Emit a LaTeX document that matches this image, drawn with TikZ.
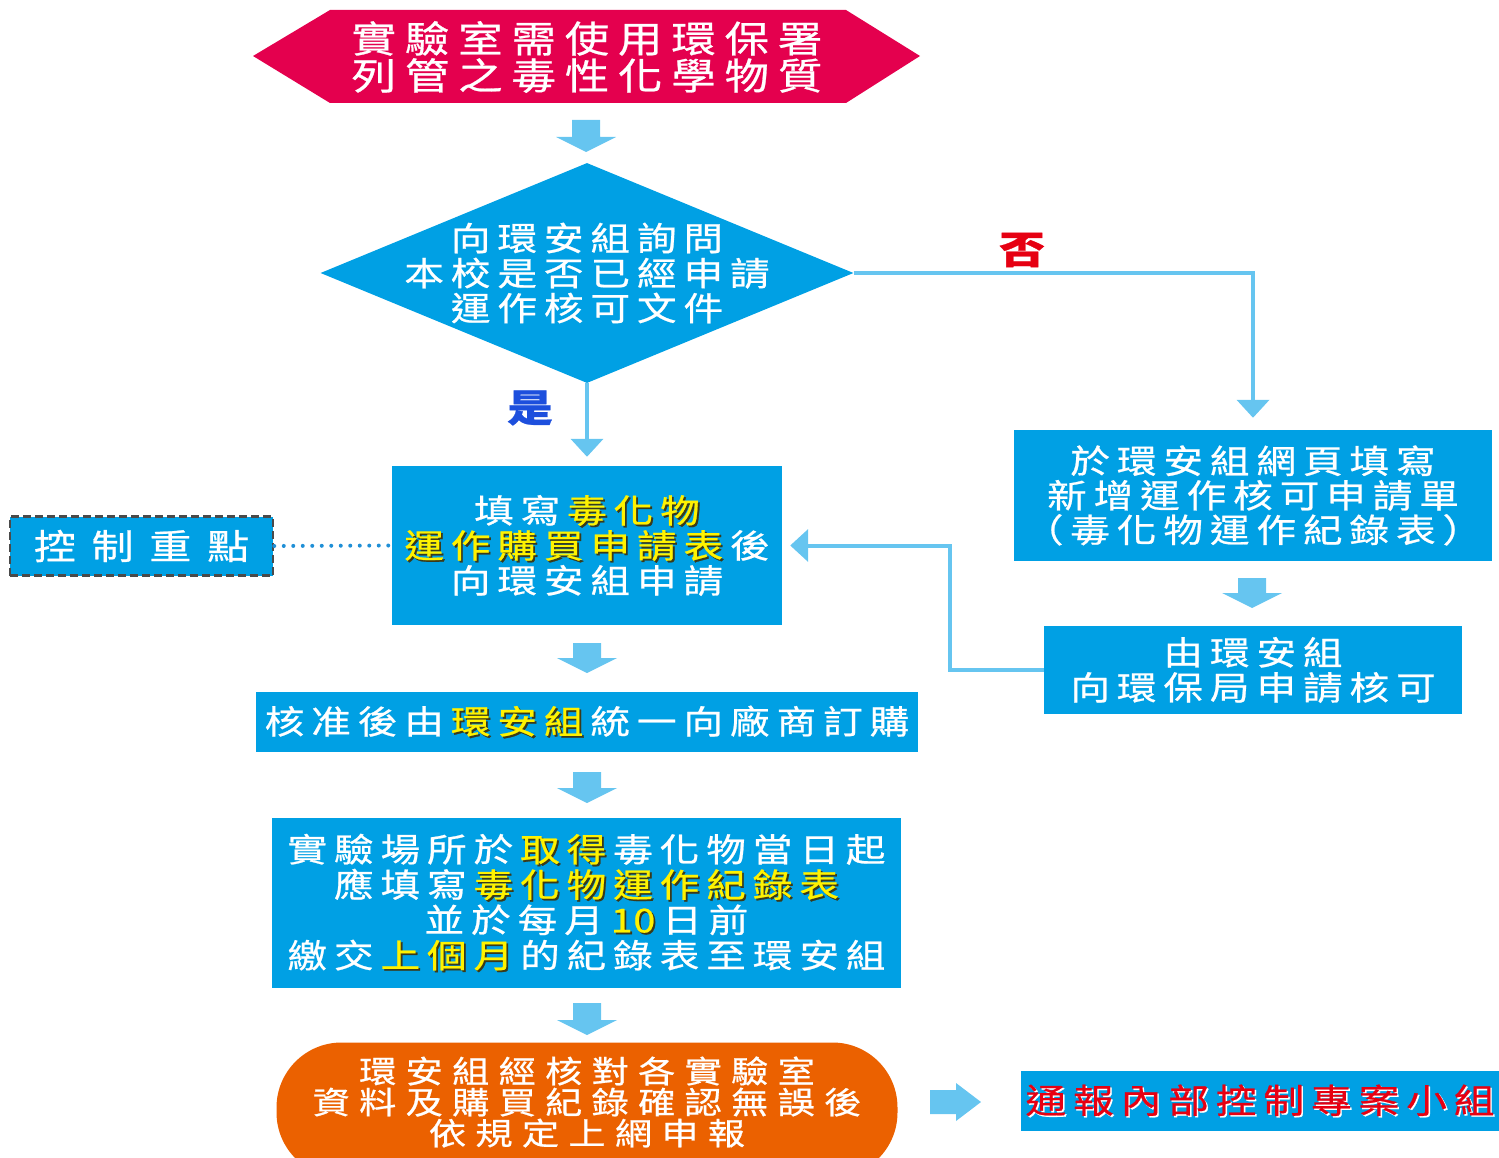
\documentclass[tikz,border=0pt]{standalone}
\usepackage{fontspec}
\setmainfont{Noto Sans CJK TC}[FakeBold=0.7, FakeStretch=1.2]
\usetikzlibrary{arrows.meta,calc,shapes.geometric}
\definecolor{boxblue}{HTML}{00A0E4}
\definecolor{arrblue}{HTML}{66C5F0}
\definecolor{hexred}{HTML}{E4004E}
\definecolor{orng}{HTML}{EB6100}
\definecolor{hlyellow}{HTML}{FFF200}
\definecolor{shd}{HTML}{3A3A1A}
\definecolor{yesblue}{HTML}{1D4FDD}
\definecolor{nored}{HTML}{E60012}
\definecolor{dotblue}{HTML}{1F8FD6}
\definecolor{dashgray}{HTML}{4A4A4A}
\newlength\lsp
\newcommand\cj[3]{\fontsize{#1}{#2}\selectfont\addfontfeatures{LetterSpace=#3}\setlength\lsp{\dimexpr #1pt*#3/100\relax}}
\newcommand\s{\kern\lsp}
\newcommand\hl[1]{\makebox[0pt][l]{\kern1.8pt\raisebox{-1.8pt}{\textcolor{shd}{#1}}}\textcolor{hlyellow}{#1}}
\newcommand\darrow[3]{\fill[arrblue] (#1-14,#2) -- (#1+14,#2) -- (#1+14,#3-15) -- (#1+30,#3-15) -- (#1,#3) -- (#1-30,#3-15) -- (#1-14,#3-15) -- cycle;}
\begin{document}
\begin{tikzpicture}[x=1pt,y=-1pt,
  box/.style={fill=boxblue, text=white, align=center, inner sep=0pt},
  txt/.style={text=white, align=center, inner sep=0pt},
  conn/.style={draw=arrblue, line width=4pt, -{Triangle[width=32pt,length=18pt]}},
  ctrl/.style={fill=boxblue, text=white, draw=dashgray, line width=2.5pt, dash pattern=on 8pt off 4pt},
  dotline/.style={draw=dotblue, line width=4pt, line cap=round, dash pattern=on 0pt off 9.5pt}]
\useasboundingbox (0,0) rectangle (1499,1158);
\begin{scope}
\clip (0,0) rectangle (1499,1158);
% hexagon
\fill[hexred] (253,56) -- (330,10) -- (846,10) -- (920,56) -- (846,103) -- (330,103) -- cycle;
\node[txt, font=\cj{37}{37}{24}] (hex) at (587,57) {實驗室需使用環保署\\列管之毒性化學物質};
\darrow{586}{120}{152}
% diamond
\node[diamond, fill=boxblue, minimum width=533pt, minimum height=220pt, inner sep=0pt] (dia) at (587,273) {};
\node[txt, font=\cj{33}{35}{21}] (diat) at (587,273) {向環安組詢問\\本校是否已經申請\\運作核可文件};
\node[text=nored, inner sep=0pt, font=\cj{38}{40}{0}\bfseries] (no) at (1022,250) {否};
\node[text=yesblue, inner sep=0pt, font=\cj{38}{40}{0}\bfseries] (yes) at (530,408) {是};
% box 2
\node[box, minimum width=390pt, minimum height=159pt, font=\cj{33}{35}{21}] (b2) at (587,545.5)
  {填寫\s{}\hl{毒化物}\\\hl{運作購買申請表}\s{}後\\向環安組申請};
% control
\node[ctrl, minimum width=263pt, minimum height=59pt, font=\cj{35}{37}{45}] (ctl) at (141.5,546) {控制重點};
\draw[dotline] (ctl.east) -- (b2.west);
% right boxes
\node[box, minimum width=478pt, minimum height=131pt, font=\cj{33}{34.5}{21}] (r1) at (1253,495.5)
  {於環安組網頁填寫\\新增運作核可申請單\\（毒化物運作紀錄表）};
\darrow{1252}{578}{608}
\node[box, minimum width=418pt, minimum height=88pt, font=\cj{33}{35}{21}] (r2) at (1253,670)
  {由環安組\\向環保局申請核可};
% connectors
\draw[conn, shorten >=9pt] (dia.south) -- (b2.north);
\draw[conn, shorten >=12pt] (dia.east) -| (r1.north);
\draw[conn, shorten >=8pt] (r2.west) -- ++(-94,0) |- (b2.east);
% box 3
\darrow{587}{643}{673}
\node[box, minimum width=662pt, minimum height=60pt, font=\cj{33}{35}{21}] (b3) at (587,722)
  {核准後由\s{}\hl{環安組}\s{}統一向廠商訂購};
\darrow{587}{772}{803}
% box 4
\node[box, minimum width=629pt, minimum height=170pt, font=\cj{33}{35.3}{21}] (b4) at (586.5,903)
  {實驗場所於\s{}\hl{取得}\s{}毒化物當日起\\應填寫\s{}\hl{毒化物運作紀錄表}\\並於每月\s{}{\addfontfeatures{LetterSpace=2}\hl{10}}\s{}日前\\繳交\s{}\hl{上個月}\s{}的紀錄表至環安組};
\darrow{587}{1003}{1035}
% ellipse
\node[fill=orng, rounded corners=65pt, minimum width=621pt, minimum height=135pt, inner sep=0pt] (ell) at (587,1110) {};
\node[txt, font=\cj{31}{31}{30}] (ellt) at (587,1102) {環安組經核對各實驗室\\資料及購買紀錄確認無誤後\\依規定上網申報};
\fill[arrblue] (930,1090) -- (956,1090) -- (956,1083) -- (981,1102) -- (956,1121) -- (956,1114) -- (930,1114) -- cycle;
\node[box, minimum width=478pt, minimum height=60pt, font=\cj{34}{35}{20}] (r3) at (1260,1101)
  {\makebox[0pt][l]{\kern1.5pt\raisebox{-1.5pt}{\textcolor{white}{通報內部控制專案小組}}}\textcolor{nored}{通報內部控制專案小組}};
\end{scope}
\end{tikzpicture}
\end{document}
